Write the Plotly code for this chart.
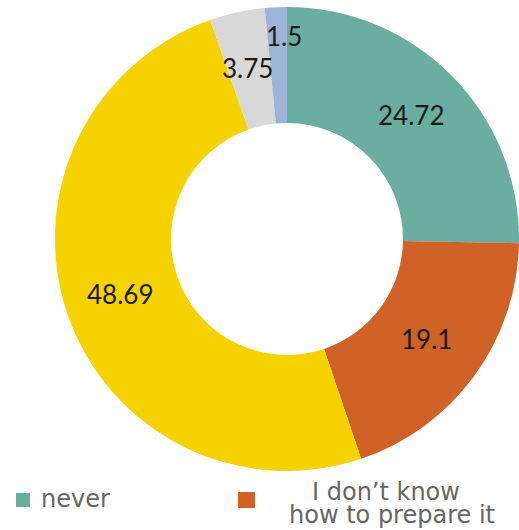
import plotly.graph_objects as go

# Share of answers per category (percent)
categories = ["never", "I don't know how to prepare it", "category 3", "category 4", "category 5"]
values = [24.72, 19.1, 48.69, 3.75, 1.5]
colors = ["#6aaea0", "#d06228", "#f6d300", "#d8d8d8", "#9eb3d8"]

# Value label placement (pixel positions, converted to paper coordinates)
label_x = [411, 426, 120, 247, 284]
label_y = [115, 339, 294, 68, 36]

W, H = 519, 530

fig = go.Figure()
fig.add_trace(go.Pie(
    labels=categories,
    values=values,
    marker=dict(colors=colors, line=dict(width=0)),
    hole=0.5,
    sort=False,
    direction="clockwise",
    rotation=0,
    textinfo="none",
    hoverinfo="label+value",
    showlegend=False,
    domain=dict(x=[55 / W, 519 / W], y=[1 - 471 / H, 1 - 7 / H]),
))

for v, lx, ly in zip(values, label_x, label_y):
    fig.add_annotation(
        x=lx / W, y=1 - ly / H, xref="paper", yref="paper",
        text=f"{v:g}", showarrow=False,
        font=dict(family="Lato", size=26, color="#1a1a1a"),
        xanchor="center", yanchor="middle",
    )

# Legend for the first two categories
legend_font = dict(family="DejaVu Sans", size=24, color="#666666")
fig.add_shape(type="rect", xref="paper", yref="paper",
              x0=16 / W, x1=30 / W, y0=1 - 507 / H, y1=1 - 493 / H,
              fillcolor=colors[0], line=dict(width=0))
fig.add_annotation(x=39 / W, y=1 - 499 / H, xref="paper", yref="paper",
                   text=categories[0], showarrow=False, font=legend_font,
                   xanchor="left", yanchor="middle")
fig.add_shape(type="rect", xref="paper", yref="paper",
              x0=238 / W, x1=255 / W, y0=1 - 508 / H, y1=1 - 492 / H,
              fillcolor=colors[1], line=dict(width=0))
legend_lines = ["I don’t know", "how to prepare it"]
legend_line_x = [386, 392]
legend_line_y = [492, 515]
for txt, tx, ty in zip(legend_lines, legend_line_x, legend_line_y):
    fig.add_annotation(x=tx / W, y=1 - ty / H, xref="paper", yref="paper",
                       text=txt, showarrow=False, font=legend_font,
                       xanchor="center", yanchor="middle")

fig.update_layout(
    width=W, height=H,
    margin=dict(l=0, r=0, t=0, b=0),
    paper_bgcolor="white", plot_bgcolor="white",
)

fig.write_html("out.html")
